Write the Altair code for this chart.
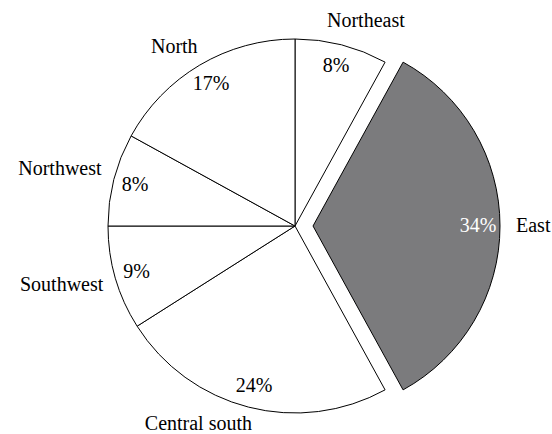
import altair as alt
import pandas as pd

# Regional shares, clockwise from 12 o'clock
regions = ["Northeast", "East", "Central south", "Southwest", "Northwest", "North"]
shares = [8, 34, 24, 9, 8, 17]
exploded = "East"

df = pd.DataFrame({"region": regions, "share": shares, "order": list(range(len(regions)))})
df["pct"] = [f"{v}%" for v in shares]

FONT = "Liberation Serif"
R = 187            # pie radius
R_PCT = 165        # radius of the percentage labels
R_NAME = 209       # radius of the region names
SHIFT = 18         # how far the exploded slice is pulled out
theta_scale = alt.Scale(domain=[0, 100])

base = alt.Chart(df).transform_window(
    end="sum(share)", sort=[alt.SortField("order")], frame=[None, 0]
).transform_calculate(
    start="datum.end - datum.share",
    mid="datum.end - datum.share / 2",
)


def pick(names):
    return alt.FieldOneOfPredicate(field="region", oneOf=names)


others = [r for r in regions if r != exploded]

slices = base.transform_filter(pick(others)).mark_arc(
    radius=R, fill="white", stroke="black", strokeWidth=1
).encode(theta=alt.Theta("start:Q", scale=theta_scale), theta2="end:Q")

east_slice = base.transform_filter(pick([exploded])).mark_arc(
    radius=R, fill="#7b7b7d", stroke="black", strokeWidth=1, xOffset=SHIFT
).encode(theta=alt.Theta("start:Q", scale=theta_scale), theta2="end:Q")


def text_layer(names, radius, field, **kw):
    style = dict(font=FONT, fontSize=20, baseline="middle", radius=radius, color="black")
    style.update(kw)
    return base.transform_filter(pick(names)).mark_text(**style).encode(
        theta=alt.Theta("mid:Q", scale=theta_scale), text=f"{field}:N"
    )


pct = text_layer(others, R_PCT, "pct", align="center")
east_pct = text_layer([exploded], R_PCT, "pct", align="center", color="white", xOffset=SHIFT)

left_names = text_layer(["Southwest", "North"], R_NAME, "region", align="right", dx=9, dy=1)
cs_name = text_layer(["Central south"], R_NAME, "region", align="right", dx=9, dy=-4)
nw_name = text_layer(["Northwest"], R_NAME, "region", align="right", dx=9, dy=-5)
ne_name = text_layer(["Northeast"], R_NAME, "region", align="left", dx=-20, dy=-3)
east_name = text_layer([exploded], R_NAME, "region", align="left", dx=-6, xOffset=SHIFT)

chart = alt.layer(
    slices, east_slice, pct, east_pct, left_names, cs_name, nw_name, ne_name, east_name
).properties(
    width=512,
    height=416,
    padding={"left": 39, "top": 18, "right": 1, "bottom": 0},
    autosize=alt.AutoSizeParams(type="none"),
    background="white",
).configure_view(strokeWidth=0)

chart.save("out.html", embed_options={"renderer": "svg", "actions": False})
